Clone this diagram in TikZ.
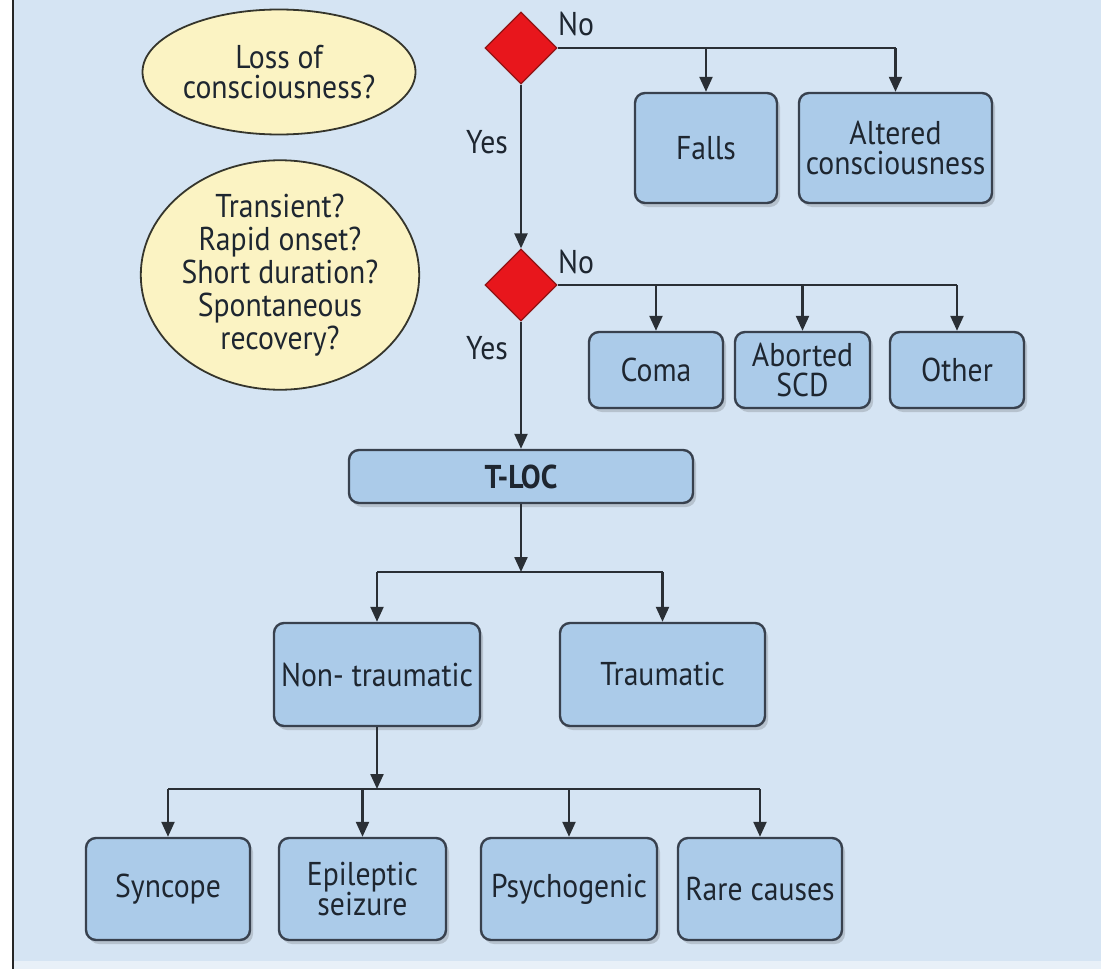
\documentclass[tikz,border=0pt]{standalone}
\usepackage{fontspec}
\setmainfont[FakeStretch=0.9]{PT Sans}
\usetikzlibrary{shapes.geometric,arrows.meta,shadows}
\definecolor{bg}{HTML}{D5E4F3}
\definecolor{boxfill}{HTML}{ABCBE9}
\definecolor{boxdraw}{HTML}{38414E}
\definecolor{ellfill}{HTML}{FBF3C3}
\definecolor{ellline}{HTML}{35352C}
\definecolor{dfill}{HTML}{E8161C}
\definecolor{ddraw}{HTML}{901414}
\definecolor{lncol}{HTML}{2A2F35}
\definecolor{txt}{HTML}{1E2630}
\newcommand\fsz{\fontsize{33}{30}\selectfont}
\newcommand\fszb{\fontsize{33}{33}\selectfont}
\begin{document}
\begin{tikzpicture}[x=1pt,y=-1pt,
  box/.style={draw=boxdraw, line width=2.4pt, fill=boxfill, rounded corners=10pt,
    inner sep=0pt, align=center, text=txt, font=\fsz,
    drop shadow={shadow xshift=3pt, shadow yshift=-4pt, opacity=0.22, fill=black!70}},
  ell/.style={ellipse, draw=ellline, line width=1.8pt, fill=ellfill, inner sep=0pt,
    align=center, text=txt, font=\fszb},
  dec/.style={diamond, draw=ddraw, line width=1.2pt, fill=dfill, inner sep=0pt,
    minimum width=72pt, minimum height=72pt},
  lbl/.style={text=txt, font=\fsz, inner sep=0pt},
  ln/.style={draw=lncol, line width=2.3pt},
  arr/.style={ln, -{Triangle[length=15pt,width=13pt]}}
]
\useasboundingbox (0,0) rectangle (1101,969);
% background
\fill[white] (0,0) rectangle (1101,969);
\fill[bg] (14,0) rectangle (1101,961);
\fill[bg!55!white] (14,961) rectangle (1101,969);
\draw[black!85, line width=1.6pt] (13,0) -- (13,969);

% ellipses
\node[ell, minimum width=273pt, minimum height=125pt, font=\fsz] (e1) at (279,72) {Loss of\\consciousness?};
\node[ell, minimum width=275pt, minimum height=224pt] (e2) at (280,275) {Transient?\\Rapid onset?\\Short duration?\\Spontaneous\\recovery?};

% decisions
\node[dec] (d1) at (521,48) {};
\node[dec] (d2) at (521,285) {};
\node[lbl] (no1) at (576,24) {No};
\node[lbl] (no2) at (576,262) {No};
\node[lbl] (yes1) at (487,142) {Yes};
\node[lbl] (yes2) at (487,348) {Yes};

% first row outcomes
\node[box, minimum width=142pt, minimum height=110pt] (falls) at (706,148) {Falls};
\node[box, minimum width=193pt, minimum height=110pt] (alt) at (895.5,148) {Altered\\consciousness};

% second row outcomes
\node[box, minimum width=134pt, minimum height=76pt] (coma) at (656,370) {Coma};
\node[box, minimum width=135pt, minimum height=76pt] (scd) at (802.5,370) {Aborted\\SCD};
\node[box, minimum width=134pt, minimum height=76pt] (other) at (957,370) {Other};

% T-LOC
\node[box, minimum width=344pt, minimum height=53pt, font=\fsz\bfseries] (tloc) at (521,476.5) {T-LOC};

% third row
\node[box, minimum width=206pt, minimum height=103pt] (non) at (377,674.5) {Non- traumatic};
\node[box, minimum width=205pt, minimum height=103pt] (trau) at (662.5,674.5) {Traumatic};

% bottom row
\node[box, minimum width=164pt, minimum height=102pt] (sync) at (168,889) {Syncope};
\node[box, minimum width=167pt, minimum height=102pt] (epi) at (362.5,889) {Epileptic\\seizure};
\node[box, minimum width=176pt, minimum height=102pt] (psy) at (569,889) {Psychogenic};
\node[box, minimum width=164pt, minimum height=102pt] (rare) at (760,889) {Rare causes};

% junction coordinates
\coordinate (j1) at (521,572);
\coordinate (j2) at (377,789);

% connectors, first decision
\draw[ln] (d1.east) -- (alt.north |- d1.east);
\draw[arr] (falls.north |- d1.east) -- (falls.north);
\draw[arr] (alt.north |- d1.east) -- (alt.north);
\draw[arr] (d1.south) -- (d2.north);

% second decision
\draw[ln] (d2.east) -- (other.north |- d2.east);
\draw[arr] (coma.north |- d2.east) -- (coma.north);
\draw[arr] (scd.north |- d2.east) -- (scd.north);
\draw[arr] (other.north |- d2.east) -- (other.north);
\draw[arr] (d2.south) -- (tloc.north);

% T-LOC split
\draw[arr] (tloc.south) -- (j1);
\draw[ln] (non.north |- j1) -- (trau.north |- j1);
\draw[arr] (non.north |- j1) -- (non.north);
\draw[arr] (trau.north |- j1) -- (trau.north);

% non-traumatic split
\draw[arr] (non.south) -- (j2);
\draw[ln] (sync.north |- j2) -- (rare.north |- j2);
\draw[arr] (sync.north |- j2) -- (sync.north);
\draw[arr] (epi.north |- j2) -- (epi.north);
\draw[arr] (psy.north |- j2) -- (psy.north);
\draw[arr] (rare.north |- j2) -- (rare.north);
\end{tikzpicture}
\end{document}
